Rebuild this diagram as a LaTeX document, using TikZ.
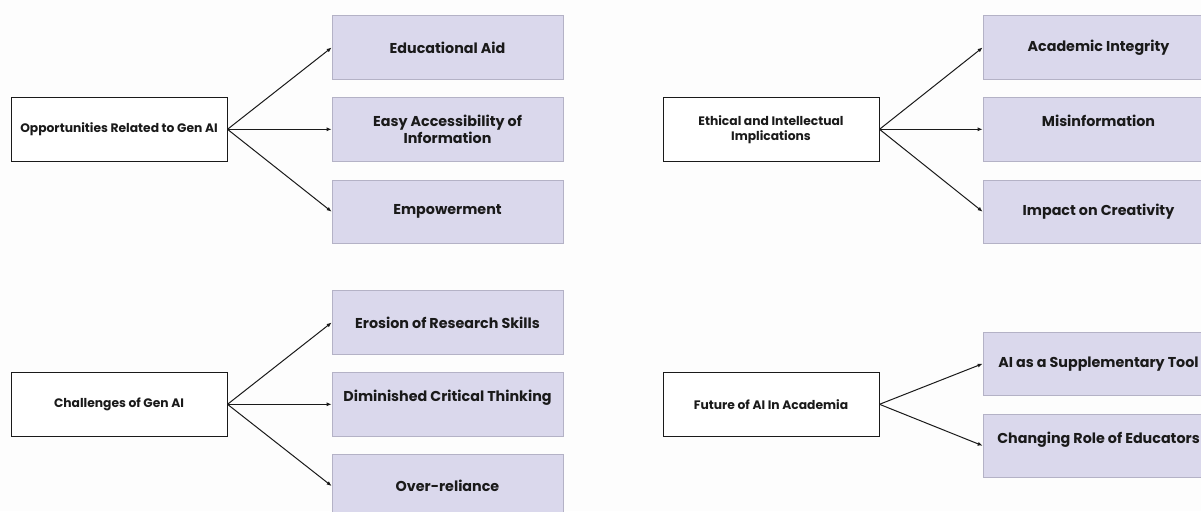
\documentclass[tikz,border=0pt]{standalone}
\usepackage{fontspec}
\setmainfont{Poppins}
\usetikzlibrary{arrows.meta}
\definecolor{pagebg}{HTML}{FDFDFD}
\definecolor{leaffill}{HTML}{DAD8EC}
\definecolor{leafedge}{HTML}{B4B2C6}
\definecolor{ink}{HTML}{1A1A1A}
\tikzset{
  hub/.style={draw=ink, line width=1pt, fill=white, minimum width=216pt, minimum height=63.5pt,
    inner sep=0pt, align=center, font=\bfseries\fontsize{12.3}{15}\selectfont, text=ink},
  leaf/.style={draw=leafedge, line width=0.7pt, fill=leaffill, minimum width=231pt, minimum height=63.5pt,
    inner sep=0pt, align=center, font=\bfseries\fontsize{14.3}{16.5}\selectfont, text=ink},
  link/.style={draw=ink, line width=1pt, -{Latex[length=5pt,width=4pt]}}
}
\begin{document}
\begin{tikzpicture}[x=1pt,y=-1pt]
  \fill[pagebg] (0,0) rectangle (1201,511);
  \useasboundingbox (0,0) rectangle (1201,511);
  \begin{scope}
  \clip (0,0) rectangle (1201,511);

  % Opportunities
  \node[hub]  (opp)  at (119,129.3)   {Opportunities Related to Gen AI};
  \node[leaf] (edu)  at (447.5,47.5)  {Educational Aid};
  \node[leaf] (easy) at (447.5,129.3) {Easy Accessibility of\\Information};
  \node[leaf] (emp)  at (447.5,211.7) {Empowerment};
  \draw[link] (opp.east) -- (edu.west);
  \draw[link] (opp.east) -- (easy.west);
  \draw[link] (opp.east) -- (emp.west);

  % Ethical and intellectual implications
  \node[hub]  (eth)  at (771,129.3)    {Ethical and Intellectual\\Implications};
  \node[leaf] (acad) at (1098.5,47.5)  {Academic Integrity};
  \node[leaf] (mis)  at (1098.5,129.3) {Misinformation\\~};
  \node[leaf] (crea) at (1098.5,211.7) {Impact on Creativity};
  \draw[link] (eth.east) -- (acad.west);
  \draw[link] (eth.east) -- (mis.west);
  \draw[link] (eth.east) -- (crea.west);

  % Challenges
  \node[hub]  (chal) at (119,404.3)   {Challenges of Gen AI};
  \node[leaf] (eros) at (447.5,322.5) {Erosion of Research Skills};
  \node[leaf] (dimi) at (447.5,404.3) {Diminished Critical Thinking\\~};
  \node[leaf] (over) at (447.5,486)   {Over-reliance};
  \draw[link] (chal.east) -- (eros.west);
  \draw[link] (chal.east) -- (dimi.west);
  \draw[link] (chal.east) -- (over.west);

  % Future of AI in academia
  \node[hub]  (fut)  at (771,404.3)    {Future of AI In Academia};
  \node[leaf] (supp) at (1098.5,363.7) {AI as a Supplementary Tool};
  \node[leaf] (role) at (1098.5,445.7) {Changing Role of Educators\\~};
  \draw[link] (fut.east) -- (supp.west);
  \draw[link] (fut.east) -- (role.west);
  \end{scope}
\end{tikzpicture}
\end{document}
